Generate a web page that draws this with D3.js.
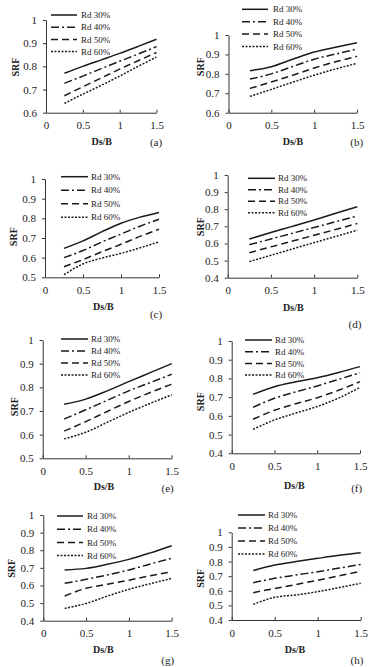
<!DOCTYPE html>
<meta charset="utf-8">
<script src="https://d3js.org/d3.v7.min.js"></script>
<style>
  body { margin: 0; background: #fff; }
  text { font-family: "Liberation Serif", "Times New Roman", serif; fill: #222; }
</style>
<div id="chart"></div>
<script>
// ---- data ----
const dsB = [0.25, 0.5, 0.75, 1.0, 1.25, 1.5];
const seriesNames = ["Rd 30%", "Rd 40%", "Rd 50%", "Rd 60%"];
const xTicks = [0, 0.5, 1, 1.5];

const srfA = [[0.770, 0.800, 0.828, 0.856, 0.886, 0.917],
              [0.727, 0.758, 0.790, 0.822, 0.853, 0.885],
              [0.673, 0.712, 0.750, 0.788, 0.824, 0.860],
              [0.640, 0.680, 0.718, 0.758, 0.800, 0.840]];
const srfB = [[0.816, 0.837, 0.875, 0.912, 0.937, 0.960],
              [0.773, 0.800, 0.838, 0.875, 0.902, 0.928],
              [0.725, 0.758, 0.793, 0.830, 0.862, 0.890],
              [0.684, 0.720, 0.757, 0.793, 0.825, 0.854]];
const srfC = [[0.647, 0.685, 0.732, 0.775, 0.806, 0.830],
              [0.600, 0.636, 0.680, 0.720, 0.760, 0.795],
              [0.554, 0.590, 0.630, 0.668, 0.708, 0.744],
              [0.513, 0.568, 0.598, 0.622, 0.650, 0.680]];
const srfD = [[0.626, 0.664, 0.700, 0.737, 0.776, 0.815],
              [0.593, 0.626, 0.660, 0.693, 0.727, 0.760],
              [0.546, 0.580, 0.614, 0.648, 0.682, 0.717],
              [0.494, 0.531, 0.568, 0.605, 0.641, 0.678]];
const srfE = [[0.728, 0.750, 0.785, 0.824, 0.862, 0.900],
              [0.666, 0.705, 0.745, 0.785, 0.820, 0.855],
              [0.615, 0.655, 0.698, 0.740, 0.778, 0.813],
              [0.582, 0.610, 0.652, 0.694, 0.732, 0.768]];
const srfF = [[0.715, 0.756, 0.782, 0.804, 0.832, 0.863],
              [0.646, 0.694, 0.728, 0.760, 0.795, 0.830],
              [0.582, 0.630, 0.665, 0.697, 0.737, 0.783],
              [0.528, 0.578, 0.615, 0.650, 0.695, 0.752]];
const srfG = [[0.688, 0.697, 0.720, 0.748, 0.785, 0.826],
              [0.612, 0.635, 0.660, 0.688, 0.722, 0.754],
              [0.540, 0.584, 0.607, 0.630, 0.655, 0.678],
              [0.470, 0.498, 0.540, 0.578, 0.610, 0.640]];
const srfH = [[0.738, 0.776, 0.800, 0.822, 0.843, 0.860],
              [0.655, 0.685, 0.708, 0.730, 0.755, 0.780],
              [0.587, 0.615, 0.643, 0.672, 0.702, 0.733],
              [0.507, 0.555, 0.572, 0.594, 0.622, 0.651]];

// ---- layout of each panel (pixels) ----
const panels = [
  {tag:"(a)", srf:srfA, yMin:0.6, x0:46,    x1:156.5, yT:20,    yB:112.7,
   leg:{x0:51,  x1:77,  tx:81,  y:15,    dy:12.2}, srfX:15,  srfY:67,    dsX:101.7, dsY:141.7, tagX:156,   tagY:141.7},
  {tag:"(b)", srf:srfB, yMin:0.6, x0:228.5, x1:357,   yT:35,    yB:112.7,
   leg:{x0:242, x1:268, tx:273, y:9.3,   dy:12.4}, srfX:200, srfY:66.7,  dsX:293,   dsY:141.7, tagX:356.7, tagY:141.7},
  {tag:"(c)", srf:srfC, yMin:0.5, x0:45,    x1:159,   yT:179,   yB:277.3,
   leg:{x0:61,  x1:88,  tx:91,  y:176.7, dy:13.5}, srfX:13.3,srfY:236.7, dsX:103.3, dsY:306.7, tagX:156,   tagY:314},
  {tag:"(d)", srf:srfD, yMin:0.4, x0:227.7, x1:357.3, yT:175,   yB:277.7,
   leg:{x0:248, x1:275, tx:278, y:178.3, dy:11.5}, srfX:200, srfY:226.7, dsX:293.3, dsY:307.7, tagX:355,   tagY:324.3},
  {tag:"(e)", srf:srfE, yMin:0.5, x0:42.7,  x1:171.7, yT:340,   yB:458.3,
   leg:{x0:61,  x1:88,  tx:91,  y:339,   dy:12},   srfX:14,  srfY:406.7, dsX:104,   dsY:486,   tagX:167.7, tagY:488},
  {tag:"(f)", srf:srfF, yMin:0.4, x0:231.7, x1:360,   yT:341,   yB:453.3,
   leg:{x0:245, x1:272, tx:275, y:340,   dy:11.7}, srfX:200, srfY:401.7, dsX:294.3, dsY:485,   tagX:356.7, tagY:488.3},
  {tag:"(g)", srf:srfG, yMin:0.4, x0:43.3,  x1:171.7, yT:515,   yB:620.7,
   leg:{x0:57,  x1:83,  tx:87,  y:516,   dy:13.2}, srfX:11.7,srfY:568.3, dsX:103.3, dsY:649.3, tagX:167.7, tagY:660},
  {tag:"(h)", srf:srfH, yMin:0.4, x0:231.7, x1:360.7, yT:532.3, yB:620,
   leg:{x0:238, x1:265, tx:268, y:515,   dy:13},   srfX:200, srfY:578.3, dsX:295,   dsY:649,   tagX:357,   tagY:660}
];

const dashes = [null, "8,3,2,3", "7,4", "2,1.5"];

const svg = d3.select("#chart").append("svg")
  .attr("width", 373)
  .attr("height", 667);

panels.forEach(p => {
  const g = svg.append("g");
  const x = d3.scaleLinear().domain([0, 1.5]).range([p.x0, p.x1]);
  const y = d3.scaleLinear().domain([p.yMin, 1]).range([p.yB, p.yT]);
  const yTicks = d3.range(Math.round(p.yMin * 10), 11).map(v => v / 10);

  // x axis, ticks pointing up
  const xa = g.append("g")
    .attr("transform", `translate(0,${p.yB})`)
    .call(d3.axisBottom(x).tickValues(xTicks).tickSize(-3).tickSizeOuter(0).tickPadding(9)
      .tickFormat(d => d));
  // y axis, ticks pointing out
  const ya = g.append("g")
    .attr("transform", `translate(${p.x0},0)`)
    .call(d3.axisLeft(y).tickValues(yTicks).tickSize(3).tickSizeOuter(0).tickPadding(6)
      .tickFormat(d => d));
  [xa, ya].forEach(a => {
    a.selectAll("path, line").attr("stroke", "#333");
    a.selectAll("text").style("font-size", "11px").style("font-family", "Liberation Serif").attr("fill", "#333");
  });

  const line = d3.line()
    .x((d, i) => x(dsB[i]))
    .y(d => y(d))
    .curve(d3.curveMonotoneX);

  g.selectAll("path.srf")
    .data(p.srf)
    .join("path")
      .attr("class", "srf")
      .attr("d", line)
      .attr("fill", "none")
      .attr("stroke", "#1a1a1a")
      .attr("stroke-width", 1.5)
      .attr("stroke-dasharray", (d, i) => dashes[i]);

  // legend
  seriesNames.forEach((name, i) => {
    const ly = p.leg.y + i * p.leg.dy;
    g.append("line")
      .attr("x1", p.leg.x0).attr("x2", p.leg.x1)
      .attr("y1", ly).attr("y2", ly)
      .attr("stroke", "#1a1a1a")
      .attr("stroke-width", 1.5)
      .attr("stroke-dasharray", dashes[i]);
    g.append("text")
      .attr("x", p.leg.tx).attr("y", ly)
      .attr("dy", "0.35em")
      .style("font-size", "9px")
      .text(name);
  });

  g.append("text")
    .attr("transform", `translate(${p.srfX},${p.srfY}) rotate(-90)`)
    .attr("text-anchor", "middle")
    .attr("dy", "0.35em")
    .style("font-size", "10px")
    .style("font-weight", "bold")
    .text("SRF");

  g.append("text")
    .attr("x", p.dsX).attr("y", p.dsY)
    .attr("text-anchor", "middle")
    .attr("dy", "0.35em")
    .style("font-size", "10px")
    .style("font-weight", "bold")
    .text("Ds/B");

  g.append("text")
    .attr("x", p.tagX).attr("y", p.tagY)
    .attr("text-anchor", "middle")
    .attr("dy", "0.35em")
    .style("font-size", "11px")
    .text(p.tag);
});
</script>
